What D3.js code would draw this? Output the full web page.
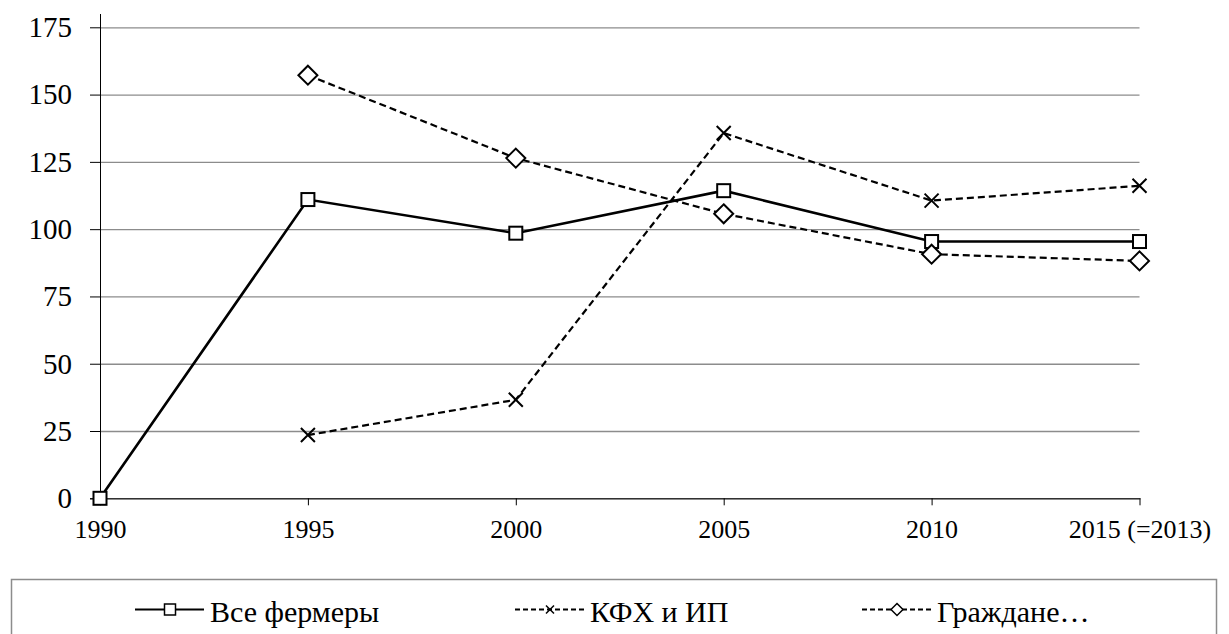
<!DOCTYPE html>
<html><head><meta charset="utf-8">
<script src="https://cdn.jsdelivr.net/npm/d3@7"></script>
<style>body{margin:0;background:#fff}svg{display:block}html body svg#c text{font-family:"Liberation Serif","Times New Roman",serif !important}</style>
</head><body><svg id="c" width="1229" height="634" font-family="Liberation Serif"></svg>
<script>
const categories = ["1990","1995","2000","2005","2010","2015 (=2013)"];
const allFarmers = [0, 111, 98.5, 114.3, 95.4, 95.4];
const kfhIp = [null, 23.5, 36.6, 135.7, 110.6, 116.1];
const citizens = [null, 157.2, 126.4, 105.7, 90.7, 88.2];
const yTicks = [0, 25, 50, 75, 100, 125, 150, 175];
const seriesNames = ["Все фермеры", "КФХ и ИП", "Граждане…"];

const FF = "Liberation Serif";
const FSTACK = "'Liberation Serif', 'Times New Roman', serif";
function applyFont(el){
  if (el.getAttribute("font-family") !== FF) el.setAttribute("font-family", FF);
  if (el.style.getPropertyValue("font-family") !== FSTACK || el.style.getPropertyPriority("font-family") !== "important")
    el.style.setProperty("font-family", FSTACK, "important");
}
const setFont = sel => sel.each(function(){ applyFont(this); });
const svg = d3.select("#c");
const x = d3.scalePoint().domain(categories).range([100, 1139.5]);
const y = d3.scaleLinear().domain([0, 175]).range([498.3, 27.3]);

// gridlines
const gy = svg.append("g").attr("transform","translate(100,0)")
  .call(d3.axisLeft(y).tickValues(yTicks).tickSize(-1039.5).tickFormat(""));
gy.select(".domain").remove();
gy.selectAll(".tick line").attr("stroke","#8c8c8c").attr("stroke-width",1.3);
// y tick marks + labels
const gy2 = svg.append("g").attr("transform","translate(100,0)")
  .call(d3.axisLeft(y).tickValues(yTicks).tickSize(10).tickPadding(18).tickFormat(d3.format("d")));
setFont(gy2.attr("font-size", 29));
gy2.select(".domain").remove();
gy2.selectAll(".tick line").attr("stroke","#000").attr("stroke-width",1);
setFont(gy2.selectAll(".tick text").attr("font-size",29));
svg.append("line").attr("x1",100.5).attr("x2",100.5).attr("y1",14).attr("y2",y(0)).attr("stroke","#000").attr("stroke-width",1);

// x axis
const gx = svg.append("g").attr("transform",`translate(0,${y(0)})`)
  .call(d3.axisBottom(x).tickSize(7).tickPadding(14));
setFont(gx.attr("font-size", 26));
gx.select(".domain").attr("d",`M90,0.5H${x.range()[1]+1}`).attr("stroke","#000");
gx.selectAll(".tick line").attr("stroke","#000");
setFont(gx.selectAll(".tick text").attr("font-size",26));

const sym = {
  square: (g, s) => g.append("rect").attr("x",-s/2).attr("y",-s/2).attr("width",s).attr("height",s).attr("fill","#fff").attr("stroke","#000").attr("stroke-width",2),
  diamond: (g, s) => g.append("path").attr("d",`M0,${-s/2}L${s/2},0L0,${s/2}L${-s/2},0Z`).attr("fill","#fff").attr("stroke","#000").attr("stroke-width",2),
  cross: (g, s) => g.append("path").attr("d",`M${-s/2},${-s/2}L${s/2},${s/2}M${-s/2},${s/2}L${s/2},${-s/2}`).attr("stroke","#000").attr("stroke-width",2)
};
const series = [
  {name: seriesNames[0], vals: allFarmers, dash: null, w: 2.6, m: "square", ms: 13},
  {name: seriesNames[1], vals: kfhIp, dash: "7,4", w: 2.2, m: "cross", ms: 14},
  {name: seriesNames[2], vals: citizens, dash: "7,4", w: 2.2, m: "diamond", ms: 19}
];
const line = d3.line().defined(d => d.v != null).x(d => x(d.c)).y(d => y(d.v));
series.forEach(s => {
  const pts = categories.map((c,i) => ({c, v: s.vals[i]}));
  svg.append("path").datum(pts).attr("d", line).attr("fill","none").attr("stroke","#000")
    .attr("stroke-width", s.w).attr("stroke-dasharray", s.dash);
});
series.forEach(s => {
  categories.forEach((c,i) => {
    if (s.vals[i] == null) return;
    const g = svg.append("g").attr("transform",`translate(${x(c)},${y(s.vals[i])})`);
    sym[s.m](g, s.ms);
  });
});

// legend
svg.append("rect").attr("x",11.5).attr("y",579.5).attr("width",1205).attr("height",80)
  .attr("fill","none").attr("stroke","#8c8c8c").attr("stroke-width",1.5);
const legX = [135, 515, 862];
series.forEach((s,i) => {
  const g = svg.append("g").attr("transform",`translate(${legX[i]},609.5)`);
  g.append("line").attr("x1",0).attr("x2",69).attr("stroke","#000").attr("stroke-width", i===0?2.2:1.8)
    .attr("stroke-dasharray", s.dash ? "5,3" : null);
  const m = g.append("g").attr("transform","translate(35,0)");
  sym[s.m](m, s.m==="diamond"?12:(s.m==="cross"?8:11)).attr("stroke-width",1.5);
  setFont(g.append("text").attr("x",75).attr("y",12).attr("font-size",30).attr("fill","#000").text(s.name));
});

// keep the serif font even if something rewrites it later
const reapply = () => svg.selectAll("text").each(function(){ applyFont(this); });
const mo = new MutationObserver(reapply);
mo.observe(document.getElementById("c"), {subtree: true, attributes: true, attributeFilter: ["font-family", "style"]});
requestAnimationFrame(reapply);
setTimeout(reapply, 0);
setTimeout(reapply, 50);
setTimeout(reapply, 300);
</script></body></html>
